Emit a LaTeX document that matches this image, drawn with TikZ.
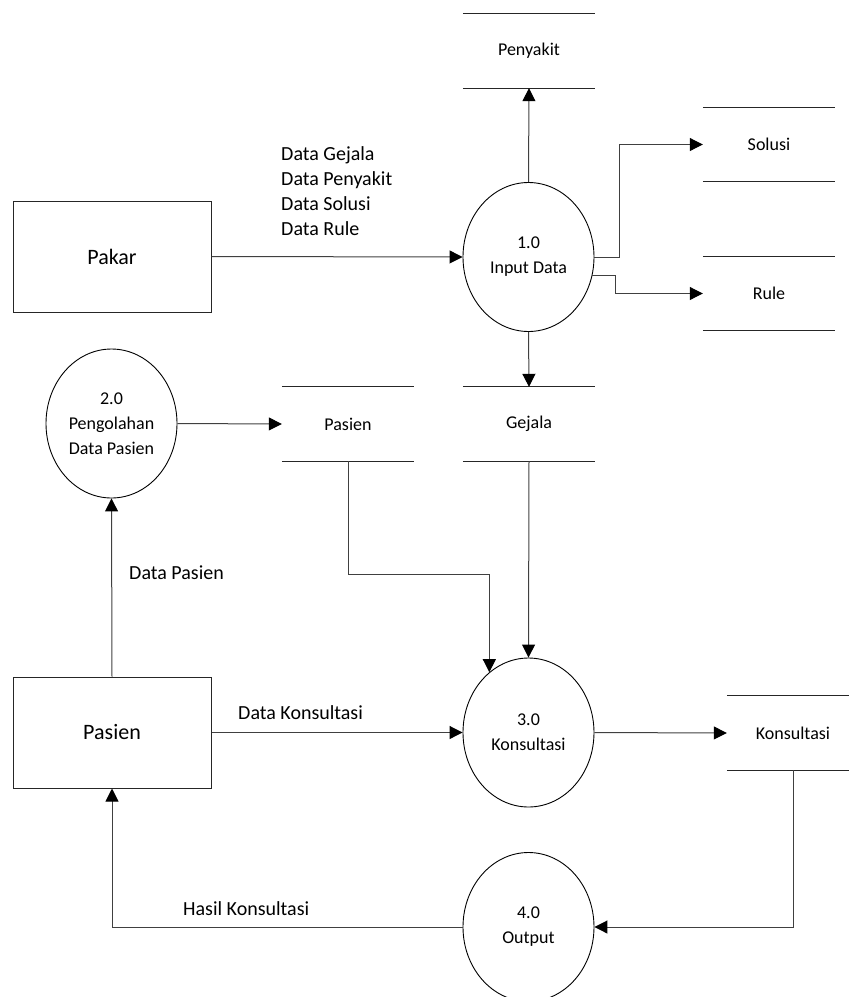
\documentclass[tikz,border=0pt]{standalone}
\usepackage{fontspec}
\setmainfont{Carlito}
\usetikzlibrary{shapes.geometric,arrows.meta}

\begin{document}
\begin{tikzpicture}[x=1pt,y=-1pt,
  entity/.style={draw=black!85, line width=1pt, minimum width=198pt, minimum height=111pt,
    inner sep=0pt, font=\fontsize{22}{26}\selectfont},
  process/.style={ellipse, draw=black, line width=0.9pt, minimum width=131pt, minimum height=149pt,
    inner sep=0pt, align=center, font=\fontsize{18}{25}\selectfont},
  datastore/.style={minimum width=132pt, minimum height=74pt, inner sep=0pt,
    font=\fontsize{18}{22}\selectfont},
  storeline/.style={draw=black!85, line width=1pt},
  flow/.style={draw=black!75, line width=1pt,
    -{Triangle[length=13pt,width=13pt,color=black,fill=black]}},
  flowlabel/.style={anchor=west, inner sep=0pt, align=left, font=\fontsize{20}{25}\selectfont}]

\useasboundingbox (0,0) rectangle (849,997);

% external entities
\node[entity] (pakar)  at (112,256.5) {Pakar};
\node[entity] (pasien) at (112,732.5) {Pasien};

% processes
\node[process] (p1) at (528.5,257)   {1.0\\Input Data};
\node[process] (p2) at (111.5,423.5) {2.0\\Pengolahan\\Data Pasien};
\node[process] (p3) at (528.5,732.5) {3.0\\Konsultasi};
\node[process] (p4) at (528.5,927)   {4.0\\Output};

% data stores
\node[datastore] (penyakit)    at (529,51)    {Penyakit};
\node[datastore] (solusi)      at (769,144.5) {Solusi};
\node[datastore] (rule)        at (769,293.5) {Rule};
\node[datastore] (gejala)      at (529,424)   {Gejala};
\node[datastore] (pasienstore) at (348,424)   {Pasien};
\node[datastore] (konsultasi)  at (793,733)   {Konsultasi};

\foreach \s in {penyakit,solusi,rule,gejala,pasienstore,konsultasi}
  \draw[storeline] (\s.north west) -- (\s.north east) (\s.south west) -- (\s.south east);

% data flows
\draw[flow] (pakar.east) -- (p1.west);
\draw[flow] (p1.north) -- (penyakit.south);
\draw[flow] (p1.east) -- ++(25,0) |- (solusi.west);
\draw[flow] (p1.-16) -- ++(23,0) |- (rule.west);
\draw[flow] (p1.south) -- (gejala.north);
\draw[flow] (p2.east) -- (pasienstore.west);
\draw[flow] (pasienstore.south) -- ++(0,113) -| (p3.123.6);
\draw[flow] (gejala.south) -- (p3.north);
\draw[flow] (pasien.east) -- (p3.west);
\draw[flow] (p3.east) -- (konsultasi.west);
\draw[flow] (konsultasi.south) |- (p4.east);
\draw[flow] (p4.west) -| (pasien.south);
\draw[flow] (pasien.north) -- (p2.south);

% flow labels
\node[flowlabel] (lbl1) at (281,191.5) {Data Gejala\\Data Penyakit\\Data Solusi\\Data Rule};
\node[flowlabel] (lbl2) at (129,573) {Data Pasien};
\node[flowlabel] (lbl3) at (238,713) {Data Konsultasi};
\node[flowlabel] (lbl4) at (183,909) {Hasil Konsultasi};

\end{tikzpicture}
\end{document}
